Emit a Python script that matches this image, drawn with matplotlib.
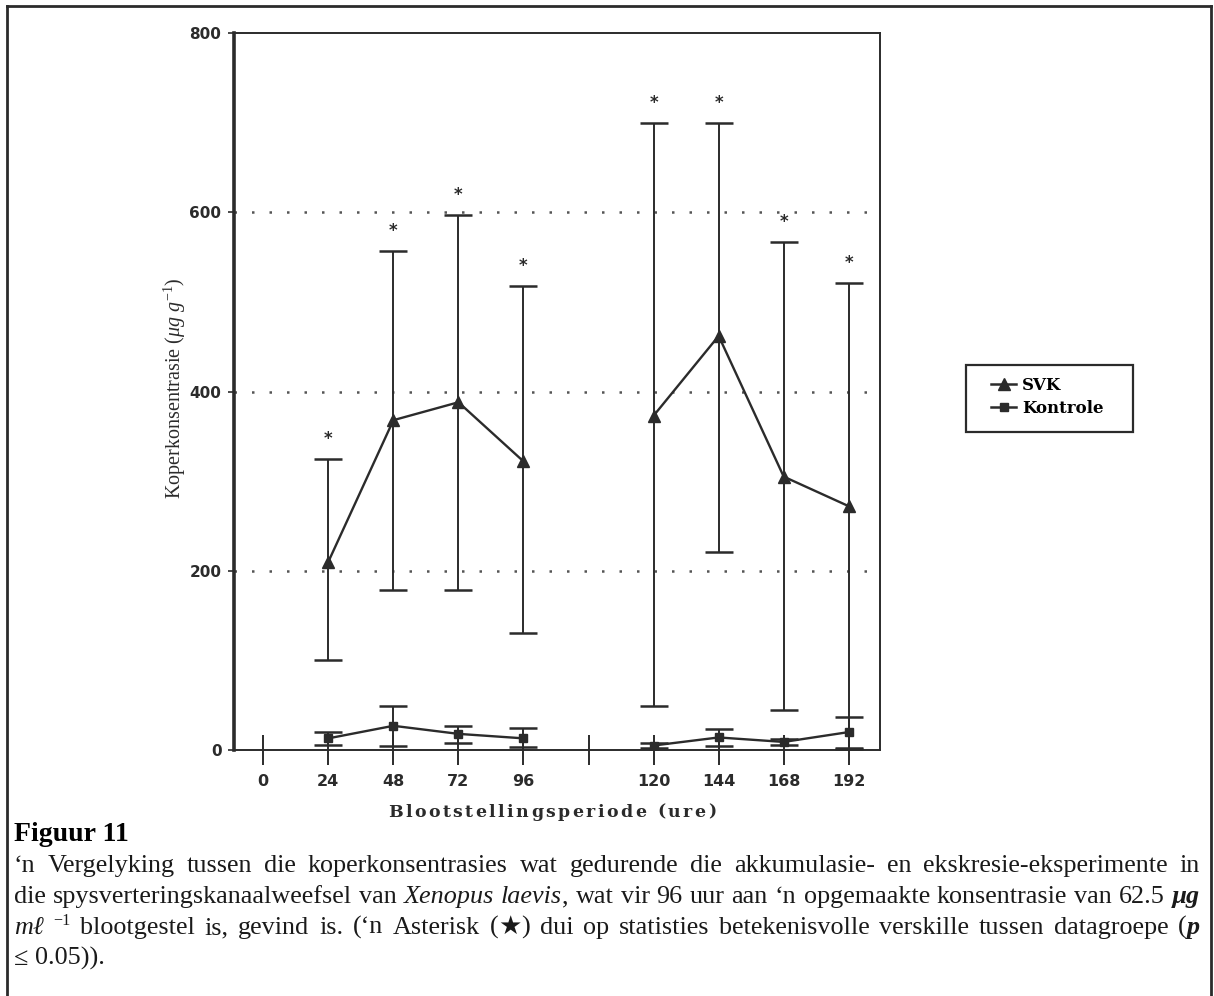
import matplotlib.pyplot as plt
import numpy as np
from matplotlib.lines import Line2D
from matplotlib.patches import Rectangle

plt.rcParams["font.family"] = "DejaVu Sans"
plt.rcParams["mathtext.fontset"] = "custom"
plt.rcParams["mathtext.rm"] = "Liberation Serif"
plt.rcParams["mathtext.it"] = "Liberation Serif:italic"

# exposure periods (hours); the blank slot separates uptake from depuration
TICK_LABELS = ["0", "24", "48", "72", "96", "", "120", "144", "168", "192"]
HOURS = [24, 48, 72, 96, 120, 144, 168, 192]
SLOTS = [1, 2, 3, 4, 6, 7, 8, 9]

# SVK (gut tissue, exposed) mean and range
svk_mean = [210, 368, 388, 322, 373, 462, 305, 272]
svk_low = [100, 178, 179, 131, 49, 221, 45, 2]
svk_high = [325, 557, 597, 518, 700, 700, 567, 521]

# control group
ctl_mean = [13, 27, 18, 13, 5, 14, 9, 20]
ctl_low = [6, 5, 8, 3, 2, 4, 6, 1]
ctl_high = [20, 49, 27, 24, 8, 23, 12, 37]

DARK = "#2b2b2b"
W, H = 1214, 996

fig = plt.figure(figsize=(W / 100, H / 100), dpi=100)
renderer = fig.canvas.get_renderer()
ax = fig.add_axes([234 / W, 1 - 750 / H, 646 / W, 717 / H])


def px(x, y):
    return x / W, 1 - y / H


def draw_series(mean, low, high, marker, ms):
    mean = np.array(mean, float)
    yerr = [mean - np.array(low), np.array(high) - mean]
    x = np.array(SLOTS)
    ax.errorbar(x, mean, yerr=yerr, fmt="none", ecolor=DARK, elinewidth=1.4,
                capsize=10, capthick=1.8, zorder=3)
    # two phases are drawn as separate connected segments
    for part in (slice(0, 4), slice(4, 8)):
        ax.plot(x[part], mean[part], color=DARK, lw=1.7, marker=marker,
                ms=ms, mfc=DARK, mec=DARK, zorder=4)


draw_series(svk_mean, svk_low, svk_high, "^", 8)
draw_series(ctl_mean, ctl_low, ctl_high, "s", 6)

# significance asterisks above the SVK upper bars
for xs, top in zip(SLOTS, svk_high):
    ax.annotate("*", (xs, top), xytext=(0, 8), textcoords="offset points",
                ha="center", va="bottom", fontsize=12, fontweight="bold",
                color=DARK)

for yv in (200, 400, 600):
    ax.axhline(yv, color="#555555", lw=1.8, ls=(0, (1, 6)), zorder=1)

ax.set_xlim(-0.45, 9.48)
ax.set_ylim(0, 800)
ax.set_xticks(range(len(TICK_LABELS)))
ax.set_xticklabels(TICK_LABELS, fontweight="bold", fontsize=11.5)
ax.set_yticks([0, 200, 400, 600, 800])
ax.set_yticklabels(["0", "200", "400", "600", "800"], fontweight="bold",
                   fontsize=11)
ax.tick_params(axis="x", direction="inout", length=22, width=1.4, pad=6,
               colors=DARK)
ax.tick_params(axis="y", direction="out", length=4, width=1.2, pad=5,
               colors=DARK)

ax.spines["left"].set_linewidth(2.6)
for side in ("top", "right", "bottom"):
    ax.spines[side].set_linewidth(1.4)
for sp in ax.spines.values():
    sp.set_color(DARK)

fig.text(*px(175, 388), r"Koperkonsentrasie ($\mathit{\mu g\ g}^{-1}$)",
         rotation=90, ha="center", va="center", fontsize=14.5,
         family="Liberation Serif", color=DARK)

# x axis title, letter-spaced
xlabel = "Blootstellingsperiode (ure)"
chars = [fig.text(0, 1 - 812 / H, c, ha="left", va="center", fontsize=12.5,
                  fontweight="bold", family="DejaVu Serif", color=DARK)
         for c in xlabel if c != " "]
widths = [t.get_window_extent(renderer).width for t in chars]
track, word_gap = 2.4, 11
gaps = []
for c in xlabel:
    if c == " ":
        gaps[-1] = word_gap
    else:
        gaps.append(track)
total = sum(widths) + sum(gaps[:-1])
x = 552 - total / 2
for t, w, g in zip(chars, widths, gaps):
    t.set_x(x / W)
    x += w + g

# legend with a hand-placed frame
handles = [
    Line2D([], [], color=DARK, lw=1.8, marker="^", ms=8, mfc=DARK),
    Line2D([], [], color=DARK, lw=1.8, marker="s", ms=6, mfc=DARK),
]
fig.legend(handles, ["SVK", "Kontrole"], loc="upper left",
           bbox_to_anchor=px(976, 362), frameon=False,
           handlelength=1.5, handletextpad=0.35, labelspacing=0.35,
           prop={"family": "DejaVu Serif", "weight": "bold", "size": 12})
fig.add_artist(Rectangle(px(966, 432), 167 / W, 67 / H, fill=False,
                         edgecolor=DARK, lw=1.6, transform=fig.transFigure))

# caption below the chart
fig.text(*px(14, 834), "Figuur 11", ha="left", va="center",
         fontsize=20, fontweight="bold", family="Liberation Serif")

CAP_SIZE = 18.8
STYLES = {
    "rm": dict(family="Liberation Serif"),
    "it": dict(family="Liberation Serif", style="italic"),
    "bi": dict(family="Liberation Serif", style="italic", weight="bold"),
    "star": dict(family="DejaVu Sans"),
    "sup": dict(family="Liberation Serif"),
}


def words(s, style="rm"):
    return [[(w, style)] for w in s.split()]


caption = [
    words("\u2018n Vergelyking tussen die koperkonsentrasies wat gedurende "
          "die akkumulasie- en ekskresie-eksperimente in"),
    words("die spysverteringskanaalweefsel van") + words("Xenopus", "it")
    + [[("laevis", "it"), (",", "rm")]]
    + words("wat vir 96 uur aan \u2018n opgemaakte konsentrasie van 62.5")
    + words("\u00b5g", "bi"),
    [[("m\u2113", "it")], [("\u22121", "sup")]]
    + words("blootgestel is, gevind is. (\u2018n Asterisk")
    + [[("(", "rm"), ("\u2605", "star"), (")", "rm")]]
    + words("dui op statisties betekenisvolle verskille tussen datagroepe")
    + [[("(", "rm"), ("p", "bi")]],
    words("\u2264 0.05))."),
]

X0, X1 = 14, 1200
space = 0.25 * CAP_SIZE * 100 / 72
for i, tokens in enumerate(caption):
    base = 872 + 31 * i
    placed = []
    for token in tokens:
        parts = []
        for text, style in token:
            size = CAP_SIZE * 0.62 if style == "sup" else CAP_SIZE
            yb = base - (9 if style == "sup" else 0)
            t = fig.text(0, 1 - yb / H, text, ha="left", va="baseline",
                         fontsize=size, color="#1a1a1a", **STYLES[style])
            parts.append((t, t.get_window_extent(renderer).width))
        placed.append(parts)
    token_w = [sum(w for _, w in parts) for parts in placed]
    # justify every line except the last one
    if i < len(caption) - 1:
        gap = (X1 - X0 - sum(token_w)) / (len(placed) - 1)
    else:
        gap = space
    x = X0
    for parts, tw in zip(placed, token_w):
        for t, w in parts:
            t.set_x(x / W)
            x += w
        x += gap

# border around the figure panel
for xs, ys in [((7, 7), (6, 996)), ((7, 1211), (6, 6)), ((1211, 1211), (6, 996))]:
    fig.add_artist(Line2D([x / W for x in xs], [1 - y / H for y in ys],
                          color=DARK, lw=2))

fig.savefig("out.png", dpi=100)
